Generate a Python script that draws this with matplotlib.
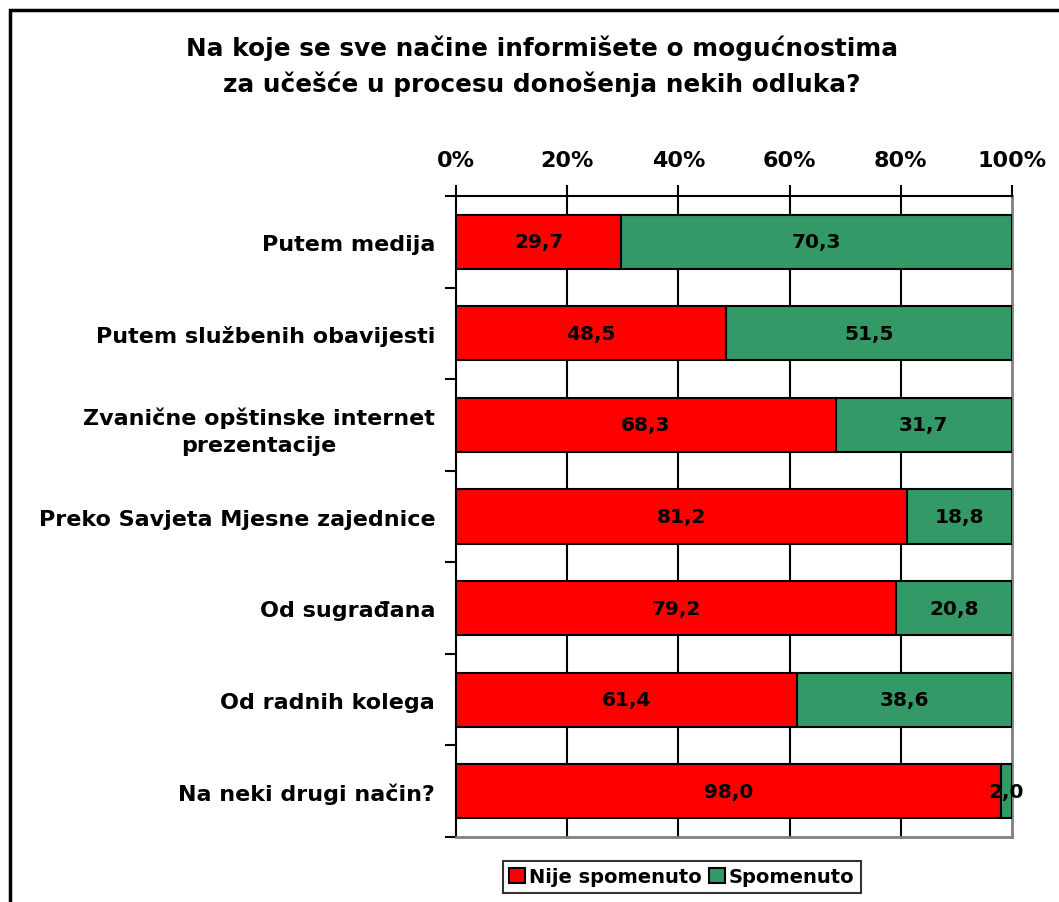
import matplotlib
matplotlib.use("Agg")
import matplotlib.pyplot as plt
import matplotlib.patches as mpatches
import numpy as np

categories = [
    "Putem medija",
    "Putem službenih obavijesti",
    "Zvanične opštinske internet\nprezentacije",
    "Preko Savjeta Mjesne zajednice",
    "Od sugrađana",
    "Od radnih kolega",
    "Na neki drugi način?",
]
nije_spomenuto = [29.7, 48.5, 68.3, 81.2, 79.2, 61.4, 98.0]
spomenuto = [70.3, 51.5, 31.7, 18.8, 20.8, 38.6, 2.0]
series_names = ["Nije spomenuto", "Spomenuto"]
x_ticks = [0, 20, 40, 60, 80, 100]

title = "Na koje se sve načine informišete o mogućnostima\nza učešće u procesu donošenja nekih odluka?"

RED = "#FF0000"
GREEN = "#339966"
GRAY = "#808080"

plt.rcParams['font.family'] = ['DejaVu Sans']
plt.rcParams['font.weight'] = 'bold'

fig = plt.figure(figsize=(10.59, 9.03), dpi=100)
ax = fig.add_axes([456 / 1059, 1 - 838 / 903, (1012 - 456) / 1059, (838 - 197) / 903])

y = np.arange(len(categories))
h = 0.59
b1 = ax.barh(y, nije_spomenuto, height=h, color=RED, edgecolor="black", linewidth=1.5,
             label=series_names[0], zorder=3)
b2 = ax.barh(y, spomenuto, left=nije_spomenuto, height=h, color=GREEN, edgecolor="black",
             linewidth=1.5, label=series_names[1], zorder=3)

# value labels, decimal comma
for i in range(len(categories)):
    ax.text(nije_spomenuto[i] / 2, y[i], f"{nije_spomenuto[i]:.1f}".replace(".", ","),
            ha="center", va="center", fontsize=14.5, fontweight="bold", zorder=4)
    ax.text(nije_spomenuto[i] + spomenuto[i] / 2, y[i], f"{spomenuto[i]:.1f}".replace(".", ","),
            ha="center", va="center", fontsize=14.5, fontweight="bold", zorder=4)

ax.set_xlim(0, 100)
ax.set_ylim(len(categories) - 0.5, -0.5)
ax.xaxis.tick_top()
ax.set_xticks(x_ticks)
ax.set_xticklabels([f"{t}%" for t in x_ticks], fontsize=16, fontweight="bold")
ax.tick_params(axis="x", direction="out", length=8, width=1.5, pad=11, colors="black")

ax.set_yticks(np.arange(len(categories) + 1) - 0.5)
ax.set_yticklabels([])
ax.set_yticks(y, minor=True)
ax.set_yticklabels(categories, minor=True, fontsize=16, fontweight="bold", ha="right",
                   multialignment="center", linespacing=1.45)
ax.tick_params(axis="y", which="major", direction="out", length=8, width=1.5)
ax.tick_params(axis="y", which="minor", length=0, pad=15)

for t in x_ticks[1:-1]:
    ax.axvline(t, color="black", linewidth=1.5, zorder=1)

ax.spines["left"].set_linewidth(1.5)
ax.spines["top"].set_linewidth(1.5)
ax.spines["right"].set_color(GRAY)
ax.spines["right"].set_linewidth(2)
ax.spines["bottom"].set_color(GRAY)
ax.spines["bottom"].set_linewidth(2)

fig.text(542 / 1059, 1 - 66 / 903, title, ha="center", va="center", fontsize=17.8,
         fontweight="bold", linespacing=1.5)

leg = fig.legend(handles=[b1, b2], labels=series_names, loc="center",
                 bbox_to_anchor=(682 / 1059, 1 - 878 / 903), ncol=2, fontsize=14,
                 frameon=True, fancybox=False, edgecolor="black", handlelength=0.8,
                 handleheight=0.8, handletextpad=0.2, columnspacing=0.4,
                 borderpad=0.35, borderaxespad=0)
leg.get_frame().set_linewidth(1.5)
for t in leg.get_texts():
    t.set_fontweight("bold")

border = mpatches.Rectangle((10 / 1059, -0.05), 1.2, 1 - 11 / 903 + 0.05,
                            transform=fig.transFigure, fill=False, edgecolor="black",
                            linewidth=2.5, clip_on=False)
fig.patches.append(border)

fig.savefig("out.png", dpi=100)
